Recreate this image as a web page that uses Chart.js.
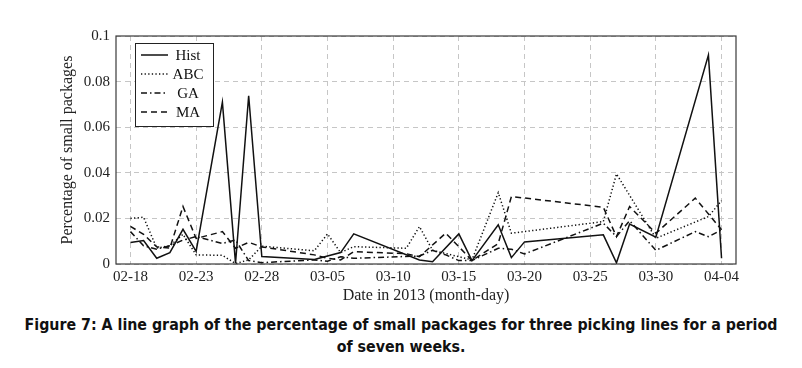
<!DOCTYPE html>
<html>
<head>
<meta charset="utf-8">
<script src="https://cdn.jsdelivr.net/npm/chart.js@4.4.1/dist/chart.umd.min.js"></script>
<style>
  html, body { margin: 0; padding: 0; background: #fff; }
  #wrap { position: relative; width: 802px; height: 368px; overflow: hidden; }
  #chartBox { position: absolute; left: 0; top: 0; width: 802px; height: 305px; }
  #caption {
    position: absolute; left: 0; top: 314px; width: 802px;
    text-align: center; color: #111;
    font: bold 15.8px "DejaVu Sans Condensed", "DejaVu Sans", sans-serif;
    line-height: 22px;
  }
</style>
</head>
<body>
<div id="wrap">
  <div id="chartBox"><canvas id="packagesChart"></canvas></div>
  <div id="caption">Figure 7: A line graph of the percentage of small packages for three picking lines for a period<br>of seven weeks.</div>
</div>
<script>
// 日付 (2013年, 月-日)
const dates = ['02-18', '02-19', '02-20', '02-21', '02-22', '02-23', '02-25', '02-26', '02-27', '02-28',
  '03-04', '03-05', '03-06', '03-07', '03-11', '03-12', '03-13', '03-14', '03-15', '03-16',
  '03-18', '03-19', '03-20', '03-26', '03-27', '03-28', '03-30', '04-02', '04-03', '04-04'];

// 各手法の小型荷物の割合 (null = 折れ点なし)
const histValues = [0.0094, 0.0103, 0.0025, 0.005, 0.0152, 0.0055, 0.071, 0.0003, 0.0738, 0.0033,
  0.002, null, 0.005, 0.0132, null, 0.0018, 0.001, null, 0.0132, 0.0015,
  0.0172, 0.0028, 0.0097, 0.0128, 0.0005, 0.0175, 0.0118, null, 0.0916, 0.0025];
const abcValues = [0.02, 0.0205, 0.007, 0.008, 0.013, 0.004, 0.0038, 0.0002, 0.0018, 0.0078,
  0.0058, 0.0132, 0.005, 0.0076, 0.0069, 0.0164, 0.006, null, null, 0.0018,
  0.0313, 0.0135, null, 0.0186, 0.0395, null, 0.0113, null, 0.0208, 0.0278];
const gaValues = [0.0142, 0.008, 0.0065, 0.008, 0.0105, 0.012, 0.009, 0.0105, 0.0015, 0.0006,
  0.0018, 0.0012, 0.0032, 0.0025, null, 0.0035, 0.006, 0.004, 0.0015, 0.0015,
  0.0069, 0.0065, 0.0044, 0.0179, 0.012, 0.019, 0.006, 0.0142, 0.012, 0.015];
const maValues = [0.0165, 0.013, 0.0075, 0.007, 0.0252, 0.0112, 0.0142, 0.0069, 0.0095, 0.0075,
  0.004, 0.0025, 0.0018, 0.0054, 0.0045, 0.0032, null, 0.0135, 0.0076, 0.0015,
  0.009, 0.0296, null, 0.0249, 0.012, 0.0252, 0.0135, 0.0289, null, 0.015];

// 軸の目盛り
const xTickLabels = ['02-18', '02-23', '02-28', '03-05', '03-10', '03-15', '03-20', '03-25', '03-30', '04-04'];
const yTicks = [0, 0.02, 0.04, 0.06, 0.08, 0.1];

// 02-18 からの経過日数
function dayOffset(md) {
  const [m, d] = md.split('-').map(Number);
  return Math.round((Date.UTC(2013, m - 1, d) - Date.UTC(2013, 1, 18)) / 86400000);
}

function toPoints(values) {
  return dates.map((d, i) => ({ x: dayOffset(d), y: values[i] }));
}

const serif = "'Liberation Serif', 'DejaVu Serif', serif";

// プロット枠
const framePlugin = {
  id: 'frame',
  afterDatasetsDraw(chart) {
    const { ctx, chartArea: a } = chart;
    ctx.save();
    ctx.strokeStyle = '#3a3a3a';
    ctx.lineWidth = 1.2;
    ctx.strokeRect(a.left, a.top, a.right - a.left, a.bottom - a.top);
    ctx.restore();
  }
};

// プロット内の凡例
const insideLegend = {
  id: 'insideLegend',
  afterDraw(chart) {
    const { ctx, chartArea: a } = chart;
    const bx = a.left + 19, by = a.top + 7, bw = 78, bh = 83;
    ctx.save();
    ctx.fillStyle = '#fff';
    ctx.fillRect(bx, by, bw, bh);
    ctx.strokeStyle = '#222';
    ctx.lineWidth = 1;
    ctx.strokeRect(bx + 0.5, by + 0.5, bw, bh);
    ctx.font = '15px ' + serif;
    ctx.textAlign = 'center';
    ctx.textBaseline = 'middle';
    chart.data.datasets.forEach((ds, i) => {
      const y = by + 12 + i * 19;
      ctx.strokeStyle = ds.borderColor;
      ctx.lineWidth = ds.borderWidth;
      ctx.setLineDash(ds.borderDash || []);
      ctx.beginPath();
      ctx.moveTo(bx + 6, y);
      ctx.lineTo(bx + 33, y);
      ctx.stroke();
      ctx.setLineDash([]);
      ctx.fillStyle = '#111';
      ctx.fillText(ds.label, bx + 53, y + 1);
    });
    ctx.restore();
  }
};

function lineSet(label, values, dash) {
  return {
    label: label,
    data: toPoints(values),
    borderColor: '#111',
    borderWidth: 1.5,
    borderDash: dash,
    pointRadius: 0,
    tension: 0,
    spanGaps: true,
    fill: false
  };
}

new Chart(document.getElementById('packagesChart'), {
  type: 'line',
  data: {
    datasets: [
      lineSet('Hist', histValues, []),
      lineSet('ABC', abcValues, [1.3, 2.3]),
      lineSet('GA', gaValues, [6, 3, 1.5, 3]),
      lineSet('MA', maValues, [6, 4])
    ]
  },
  options: {
    responsive: true,
    maintainAspectRatio: false,
    animation: false,
    layout: { padding: { left: 50, right: 66, top: 36, bottom: 0 } },
    plugins: {
      legend: { display: false },
      tooltip: { enabled: false }
    },
    scales: {
      x: {
        type: 'linear',
        min: -1.1,
        max: 46.1,
        afterFit(scale) { scale.height = 41; },
        afterBuildTicks(scale) {
          scale.ticks = xTickLabels.map(dayOffset).map(v => ({ value: v }));
        },
        ticks: {
          padding: 4,
          maxRotation: 0,
          autoSkip: false,
          color: '#222',
          font: { family: serif, size: 15 },
          callback: function (value) {
            const i = xTickLabels.map(dayOffset).indexOf(value);
            return i >= 0 ? xTickLabels[i] : '';
          }
        },
        grid: { color: '#c6c6c6', lineWidth: 1, drawTicks: false },
        border: { display: false, dash: [5, 4] },
        title: {
          display: true,
          text: 'Date in 2013 (month-day)',
          color: '#222',
          font: { family: serif, size: 16 },
          padding: { top: 0, bottom: 0 }
        }
      },
      y: {
        min: 0,
        max: 0.1,
        afterFit(scale) { scale.width = 66; },
        afterBuildTicks(scale) {
          scale.ticks = yTicks.map(v => ({ value: v }));
        },
        ticks: {
          padding: 6,
          color: '#222',
          font: { family: serif, size: 15 },
          callback: v => v === 0 ? '0' : String(+v.toFixed(2))
        },
        grid: { color: '#c6c6c6', lineWidth: 1, drawTicks: false },
        border: { display: false, dash: [5, 4] },
        title: {
          display: true,
          text: 'Percentage of small packages',
          color: '#222',
          font: { family: serif, size: 16 },
          padding: { top: 8, bottom: 4 }
        }
      }
    }
  },
  plugins: [framePlugin, insideLegend]
});
</script>
</body>
</html>
